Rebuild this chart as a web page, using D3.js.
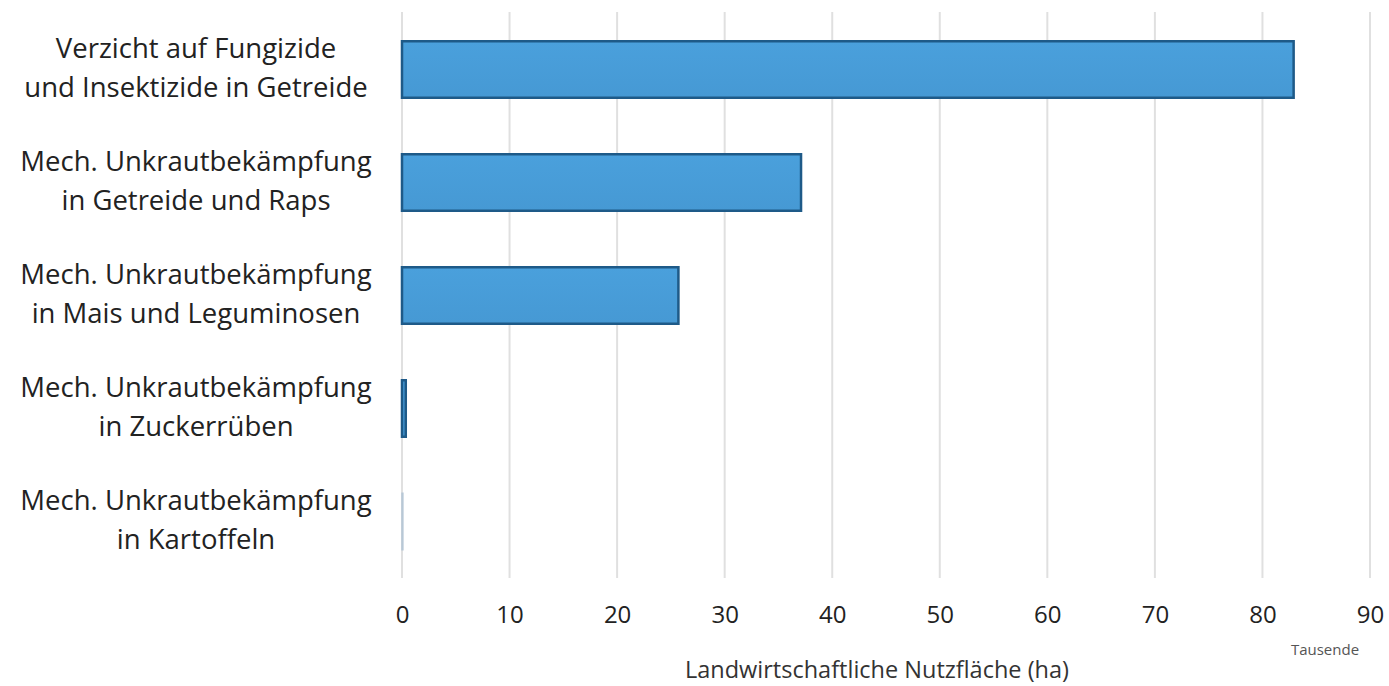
<!DOCTYPE html>
<html>
<head>
<meta charset="utf-8">
<script src="https://cdn.jsdelivr.net/npm/d3@7"></script>
<style>
  body { margin: 0; background: #fff; }
  svg text { font-family: "Open Sans", sans-serif; fill: #222; }
</style>
</head>
<body>
<svg id="chart" width="1389" height="686"></svg>
<script>
// categories (two lines each) and values in thousands of ha
const categories = [
  ["Verzicht auf Fungizide", "und Insektizide in Getreide"],
  ["Mech. Unkrautbekämpfung", "in Getreide und Raps"],
  ["Mech. Unkrautbekämpfung", "in Mais und Leguminosen"],
  ["Mech. Unkrautbekämpfung", "in Zuckerrüben"],
  ["Mech. Unkrautbekämpfung", "in Kartoffeln"]
];
const values = [82.9, 37.1, 25.7, 0.35, 0.08];
const xTicks = [0, 10, 20, 30, 40, 50, 60, 70, 80, 90];

let svg = d3.select("#chart");
let margin = { top: 13, right: 19, bottom: 108, left: 402 };
let width = 1389, height = 686;

let x = d3.scaleLinear()
  .domain([0, 90])
  .range([margin.left, width - margin.right]);

let y = d3.scaleBand()
  .domain(d3.range(categories.length))
  .range([margin.top, height - margin.bottom])
  .paddingInner(0.5)
  .paddingOuter(0.25);

// gridlines
svg.append("g")
  .selectAll("line")
  .data(xTicks)
  .join("line")
  .attr("x1", d => x(d))
  .attr("x2", d => x(d))
  .attr("y1", 12)
  .attr("y2", 578)
  .style("stroke", "#e0e0e0")
  .style("stroke-width", "2px");

// tick labels
let xAxis = svg.append("g")
  .attr("transform", `translate(0,${height - margin.bottom})`)
  .call(d3.axisBottom(x).tickValues(xTicks).tickSize(0).tickPadding(26));
xAxis.select(".domain").remove();
xAxis.selectAll("text")
  .attr("dy", null)
  .attr("y", 45)
  .style("font-size", "24px")
  .style("font-family", "Open Sans, sans-serif")
  .attr("fill", "#333");

// bars
let defs = svg.append("defs");
let grad = defs.append("linearGradient")
  .attr("id", "barGrad")
  .attr("x1", 0).attr("x2", 0).attr("y1", 0).attr("y2", 1);
grad.append("stop").attr("offset", "0%").attr("stop-color", "#4aa0dc");
grad.append("stop").attr("offset", "100%").attr("stop-color", "#4699d4");

svg.append("g")
  .selectAll("rect")
  .data(values)
  .join("rect")
  .attr("x", x(0))
  .attr("y", (d, i) => y(i))
  .attr("width", d => x(d) - x(0))
  .attr("height", y.bandwidth())
  .style("fill", "url(#barGrad)")
  .style("stroke", (d, i) => i === 4 ? "#b8c8d6" : "#1e5a88")
  .style("stroke-width", d => Math.min(2.5, Math.max(1.5, x(d) - x(0))) + "px");

// category labels, centred block
let labels = svg.append("g")
  .selectAll("text")
  .data(categories)
  .join("text")
  .attr("text-anchor", "middle")
  .style("font-size", "27.5px");

labels.selectAll("tspan")
  .data((d, i) => d.map((t, j) => ({ t, j, i })))
  .join("tspan")
  .attr("x", 196)
  .attr("y", d => y(d.i) + y.bandwidth() / 2 + (d.j === 0 ? -11.5 : 27))
  .text(d => d.t);

// axis title
svg.append("text")
  .attr("text-anchor", "middle")
  .attr("x", 877)
  .attr("y", 678)
  .style("font-size", "23.5px")
  .style("fill", "#333")
  .text("Landwirtschaftliche Nutzfläche (ha)");

svg.append("text")
  .attr("text-anchor", "middle")
  .attr("x", 1325)
  .attr("y", 655)
  .style("font-size", "15px")
  .style("fill", "#555")
  .text("Tausende");
</script>
</body>
</html>
